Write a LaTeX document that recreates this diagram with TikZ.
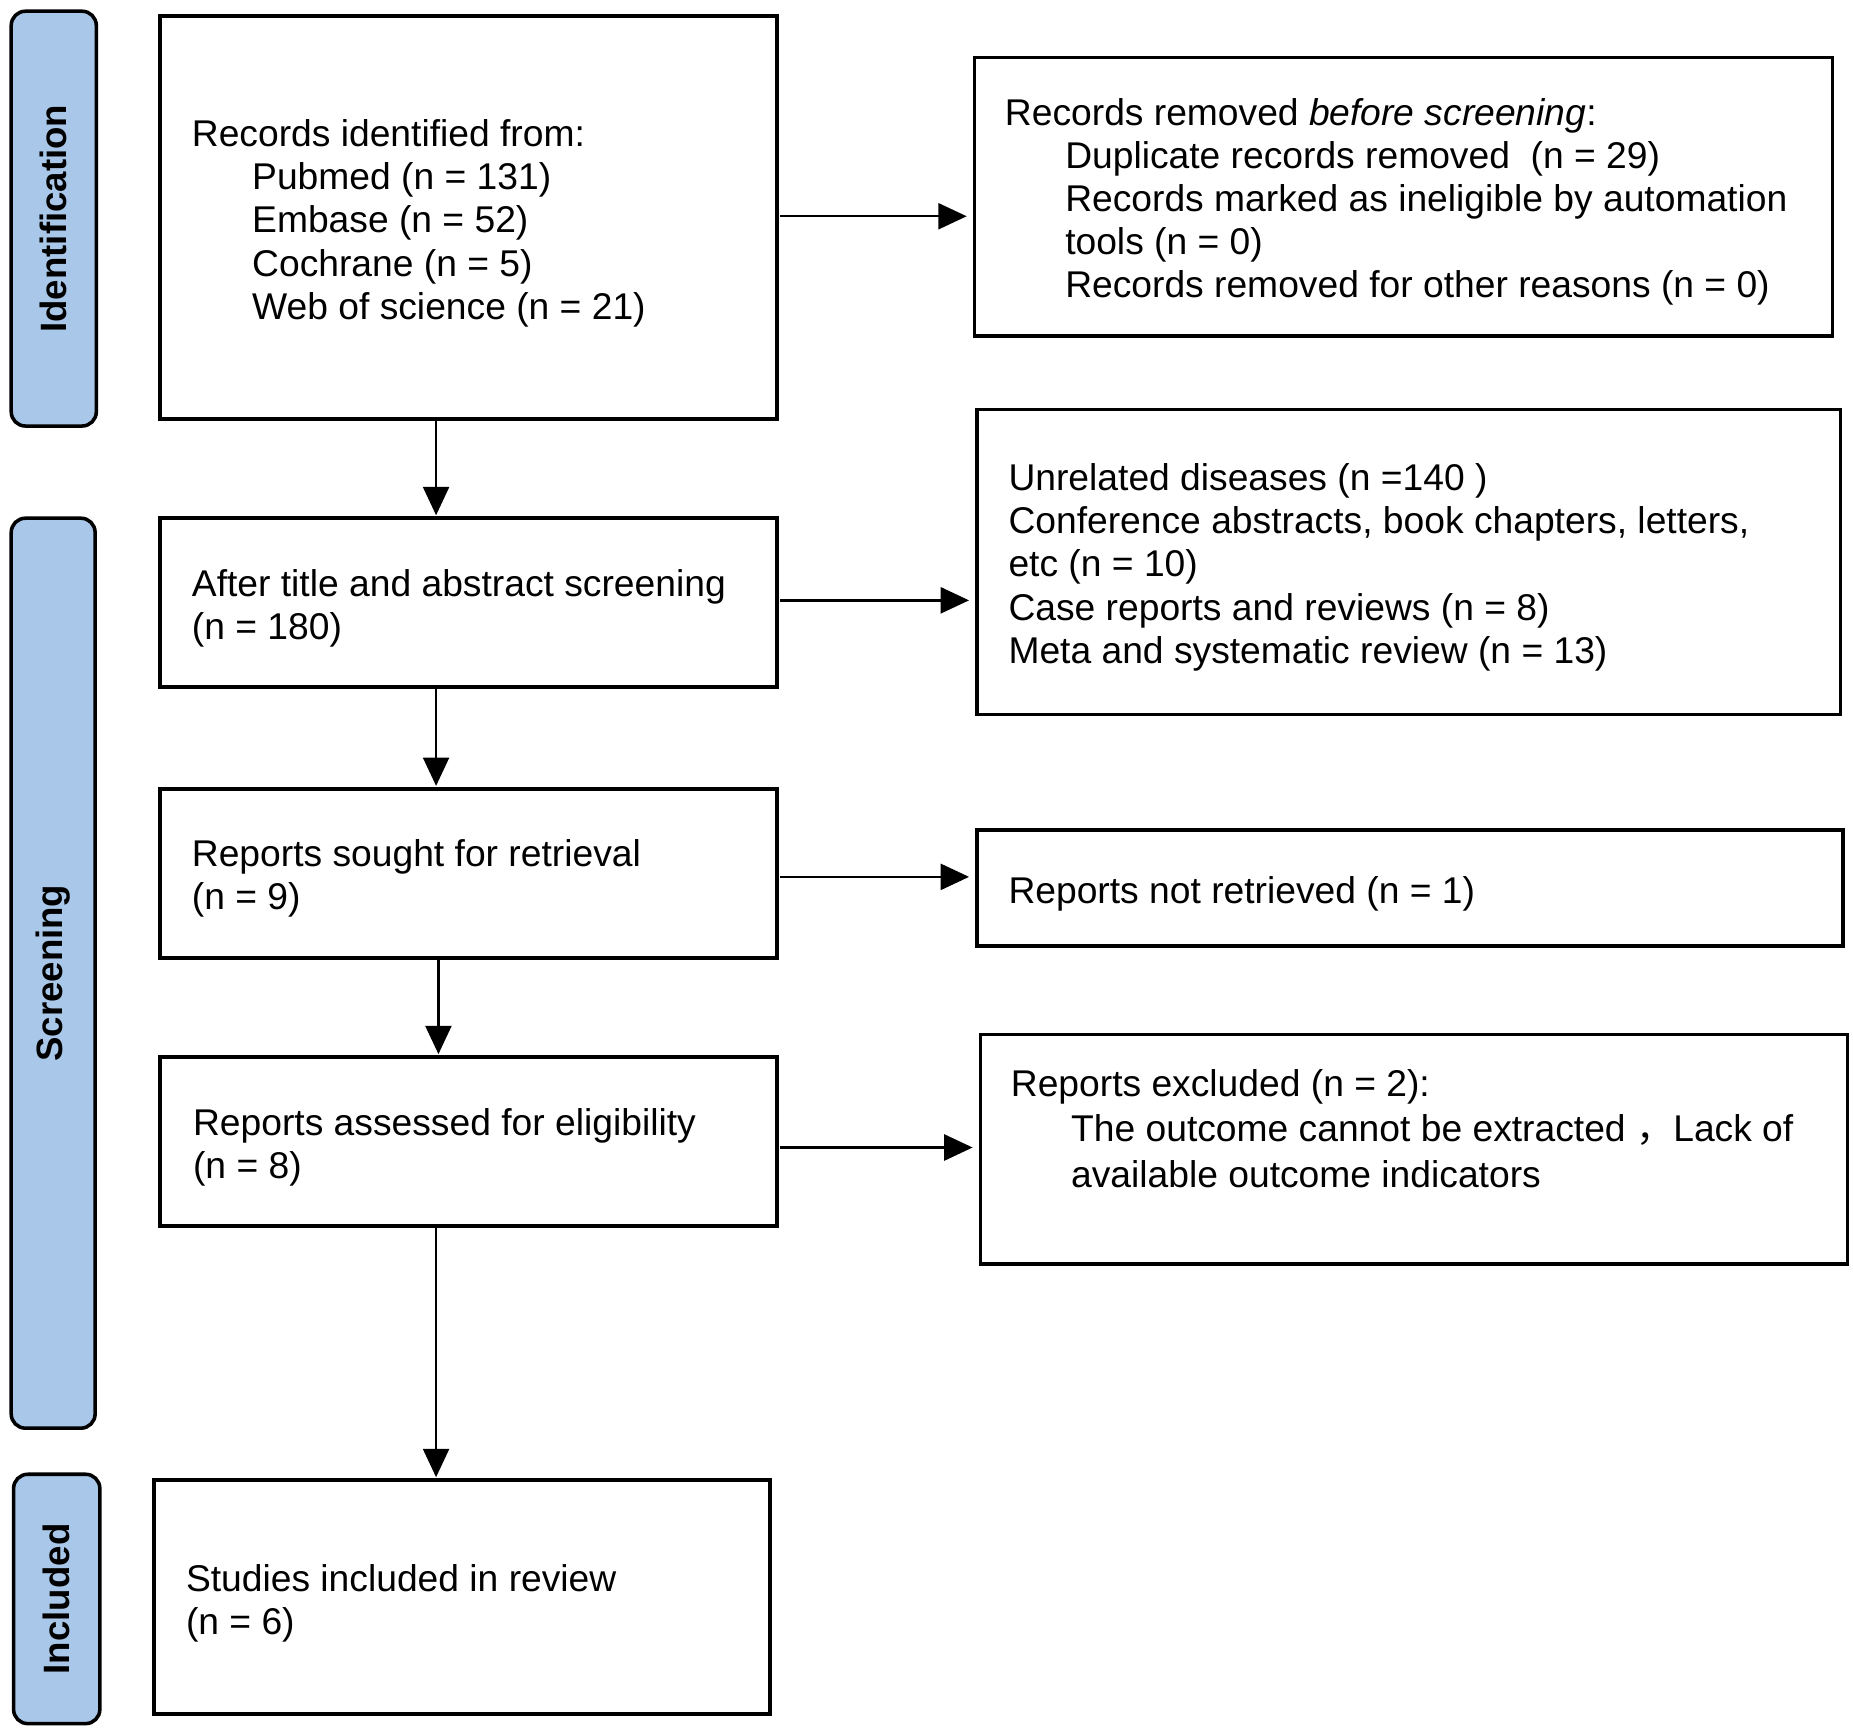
\documentclass[tikz,border=0pt]{standalone}
\usepackage{fontspec}
\setmainfont{Liberation Sans}
\newfontfamily\cjk{Noto Sans CJK SC}
\usetikzlibrary{arrows.meta,fit}
\definecolor{sideblue}{RGB}{169,199,232}
\newcommand\myind{\hspace*{25.5pt}}
\begin{document}
\begin{tikzpicture}[x=0.5pt,y=-0.5pt,
  box/.style={draw=black, line width=1.5pt, inner sep=0pt, fill=white},
  side/.style={draw=black, line width=1.5pt, rounded corners=6pt, fill=sideblue, inner sep=0pt},
  sidelabel/.style={rotate=90, font=\bfseries\fontsize{15.5}{18}\selectfont, inner sep=0pt},
  txt/.style={anchor=west, align=left, inner sep=0pt, font=\fontsize{15.75}{18.25}\selectfont},
  arr/.style={line width=1pt, -{Triangle[length=12pt,width=11pt]}},
  varr/.style={arr, shorten >=0.5pt},
  harr/.style={arr, shorten >=2.5pt, shorten <=0.5pt}
]
\useasboundingbox (0,0) rectangle (1568,1466.4);

% side phase boxes
\node[side, fit={(9.5,9.5) (81.5,360.5)}] (lid) {};
\node[side, fit={(9.5,438.5) (80.5,1208.5)}] (lsc) {};
\node[side, fit={(11.5,1247.5) (84.5,1458.5)}] (lin) {};
\node[sidelabel] (tid) at (lid.center) {Identification};
\node[sidelabel] (tsc) at (lsc.center) {Screening};
\node[sidelabel] (tin) at (lin.center) {Included};

% main boxes
\node[box, fit={(135.5,13.5) (657.5,354.5)}] (b1) {};
\node[box, fit={(824.5,48.5) (1550.5,284.5)}] (r1) {};
\node[box, fit={(135.5,438.5) (657.5,581.5)}] (b2) {};
\node[box, fit={(826.5,346.5) (1557.5,604.5)}] (r2) {};
\node[box, fit={(135.5,667.5) (657.5,810.5)}] (b3) {};
\node[box, fit={(826.5,702.5) (1559.5,800.5)}] (r3) {};
\node[box, fit={(135.5,894.5) (657.5,1037.5)}] (b4) {};
\node[box, fit={(829.5,875.5) (1563.5,1069.5)}] (r4) {};
\node[box, fit={(130.5,1252.5) (651.5,1450.5)}] (b5) {};

% texts
\node[txt] (t1) at (162,189) {Records identified from:\\
\myind Pubmed (n = 131)\\
\myind Embase (n = 52)\\
\myind Cochrane (n = 5)\\
\myind Web of science (n = 21)};
\node[txt] (tr1) at (850,171) {Records removed \textit{before screening}:\\
\myind Duplicate records removed~ (n = 29)\\
\myind Records marked as ineligible by automation\\
\myind tools (n = 0)\\
\myind Records removed for other reasons (n = 0)};
\node[txt] (t2) at (162,515) {After title and abstract screening\\(n = 180)};
\node[txt] (tr2) at (853,480) {Unrelated diseases (n =140 )\\
Conference abstracts, book chapters, letters,\\
etc (n = 10)\\
Case reports and reviews (n = 8)\\
Meta and systematic review (n = 13)};
\node[txt] (t3) at (162,743) {Reports sought for retrieval\\(n = 9)};
\node[txt] (tr3) at (853,756) {Reports not retrieved (n = 1)};
\node[txt] (t4) at (163,971) {Reports assessed for eligibility\\(n = 8)};
\node[txt, font=\fontsize{15.75}{19.25}\selectfont] (tr4) at (855,955) {Reports excluded (n = 2):\\
\myind The outcome cannot be extracted {\cjk ，}Lack of\\
\myind available outcome indicators};
\node[txt] (t5) at (157,1357) {Studies included in review\\(n = 6)};

% vertical connectors
\draw[varr] (369,0 |- b1.south) -- (369,0 |- b2.north);
\draw[varr] (369,0 |- b2.south) -- (369,0 |- b3.north);
\draw[varr] (371,0 |- b3.south) -- (371,0 |- b4.north);
\draw[varr] (369,0 |- b4.south) -- (369,0 |- b5.north);
% horizontal connectors
\draw[harr] (b1.east |- 0,183) -- (r1.west |- 0,183);
\draw[harr] (b2.east |- 0,508) -- (r2.west |- 0,508);
\draw[harr] (b3.east |- 0,742) -- (r3.west |- 0,742);
\draw[harr] (b4.east |- 0,971) -- (r4.west |- 0,971);
\end{tikzpicture}
\end{document}
